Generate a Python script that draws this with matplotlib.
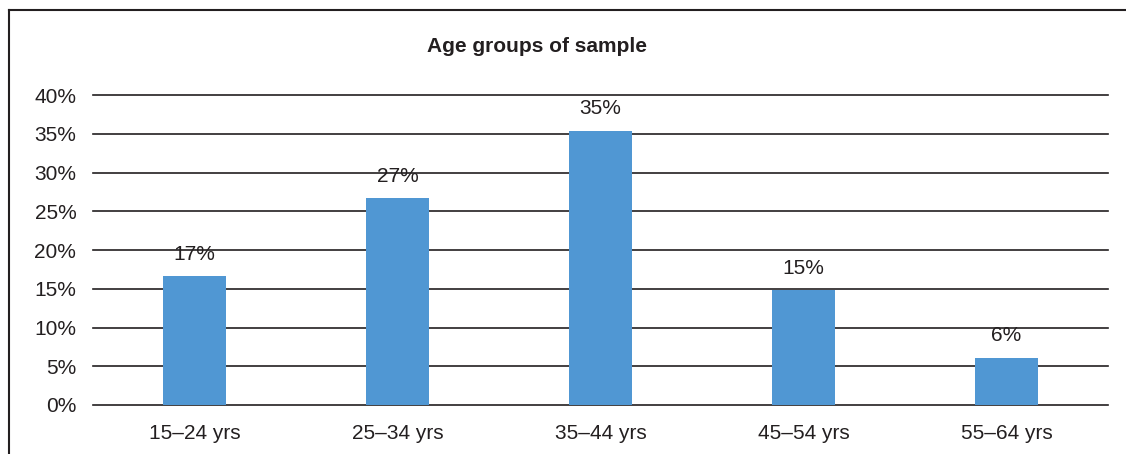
import matplotlib
matplotlib.use("Agg")
import matplotlib.pyplot as plt
from matplotlib.lines import Line2D

# age groups and share of the sample (%)
age_groups = ["15–24 yrs", "25–34 yrs", "35–44 yrs", "45–54 yrs", "55–64 yrs"]
shares = [16.6, 26.7, 35.4, 14.8, 6.1]
y_ticks = [0, 5, 10, 15, 20, 25, 30, 35, 40]

plt.rcParams['font.family'] = ['Liberation Sans', 'DejaVu Sans']

BAR_COLOR = "#5097d3"
LINE_COLOR = "#231f20"
TEXT_COLOR = "#231f20"

fig = plt.figure(figsize=(11.26, 4.54), dpi=100)
ax = fig.add_axes([93 / 1126, 1 - 405 / 454, (1108 - 93) / 1126, (405 - 95) / 454])

x = range(len(age_groups))
bars = ax.bar(x, shares, width=0.31, color=BAR_COLOR, zorder=3)

for rect, val in zip(bars, shares):
    ax.annotate("{:.0f}%".format(val),
                xy=(rect.get_x() + rect.get_width() / 2, rect.get_height()),
                xytext=(0, 9), textcoords="offset points",
                ha="center", va="bottom", fontsize=15, color=TEXT_COLOR, zorder=4)

ax.set_xlim(-0.5, len(age_groups) - 0.5)
ax.set_ylim(0, 40)
ax.set_yticks(y_ticks)
ax.set_yticklabels(["{}%".format(t) for t in y_ticks])
ax.set_xticks(list(x))
ax.set_xticklabels(age_groups)

ax.yaxis.grid(True, color=LINE_COLOR, linewidth=1.2, zorder=1)
# keep the 0% and 40% lines at full width at the axes edges
for gl in ax.get_ygridlines():
    gl.set_clip_on(False)
ax.set_axisbelow(True)
for s in ax.spines.values():
    s.set_visible(False)
ax.tick_params(axis="both", length=0, labelsize=15, colors=TEXT_COLOR)
ax.tick_params(axis="y", pad=12)
ax.tick_params(axis="x", pad=14)

fig.text(537 / 1126, 1 - 46 / 454, "Age groups of sample", ha="center", va="center",
         fontsize=15, fontweight="bold", color=TEXT_COLOR)

# frame: left and top edges only
fx = 8.5 / 1126
fy = 1 - 9.5 / 454
fig.add_artist(Line2D([fx, fx], [0, fy], transform=fig.transFigure, color=LINE_COLOR, linewidth=1.5))
fig.add_artist(Line2D([fx, 1], [fy, fy], transform=fig.transFigure, color=LINE_COLOR, linewidth=1.5))

fig.savefig("out.png", dpi=100)
